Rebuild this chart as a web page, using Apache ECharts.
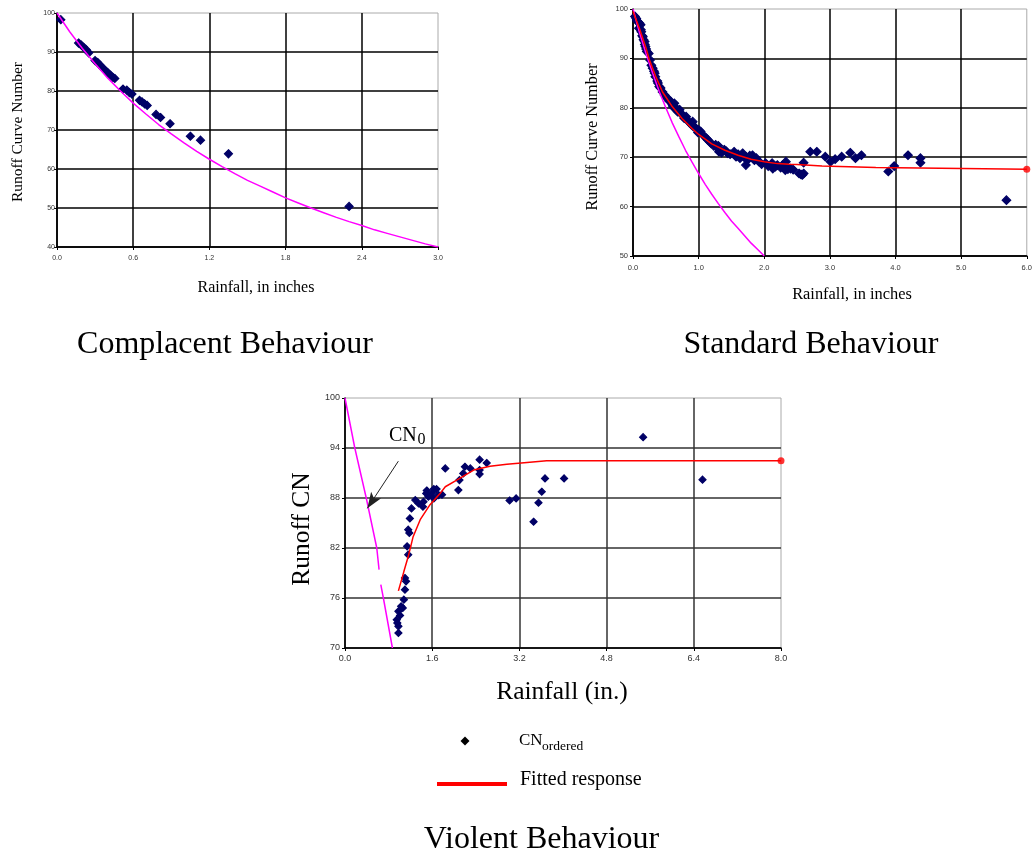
<!DOCTYPE html>
<html><head><meta charset="utf-8">
<script src="https://cdn.jsdelivr.net/npm/echarts@6/dist/echarts.min.js"></script>
<style>html,body{margin:0;padding:0;background:#fff}#c{width:1035px;height:856px}</style>
</head><body><div id="c"></div>
<script>
// ---------- Complacent behaviour ----------
const complacentRain = [0.03,0.17,0.19,0.21,0.23,0.25,0.30,0.32,0.34,0.36,0.38,0.40,0.42,0.44,0.455,0.52,0.55,0.57,0.59,0.65,0.67,0.69,0.71,0.78,0.815,0.89,1.05,1.13,1.35,2.30];
const complacentCN   = [98.3,92.3,91.8,91.2,90.6,89.8,87.8,87.3,86.6,85.9,85.3,84.7,84.1,83.5,83.2,80.5,80.2,79.6,79.2,77.6,77.2,76.7,76.3,74.0,73.2,71.6,68.4,67.4,63.9,50.4];
const complacentCN0Rain = [0,0.1,0.2,0.3,0.4,0.5,0.6,0.7,0.8,0.9,1.0,1.1,1.2,1.3,1.4,1.5,1.6,1.7,1.8,1.9,2.0,2.1,2.2,2.3,2.4,2.5,2.6,2.7,2.8,2.9,3.0];
const complacentCN0     = [100,95.2,90.9,87.0,83.3,80.0,76.9,74.1,71.4,69.0,66.7,64.5,62.5,60.6,58.8,57.1,55.6,54.1,52.6,51.3,50.0,48.8,47.6,46.5,45.5,44.4,43.5,42.6,41.7,40.8,40.0];
const complacentXTicks = ['0.0','0.6','1.2','1.8','2.4','3.0'];
const complacentYTicks = ['40','50','60','70','80','90','100'];

// ---------- Standard behaviour ----------
const standardRain = [0.03,0.05,0.06,0.076,0.09,0.10,0.116,0.12,0.126,0.14,0.15,0.16,0.177,0.18,0.19,0.20,0.21,0.24,0.26,0.28,0.30,0.32,0.33,0.34,0.37,0.38,0.40,0.42,0.45,0.48,0.50,0.53,0.55,0.58,0.60,0.61,0.63,0.65,0.66,0.68,0.71,0.73,0.76,0.78,0.81,0.83,0.86,0.89,0.91,0.92,0.95,0.99,1.00,1.03,1.09,1.12,1.14,1.17,1.19,1.23,1.26,1.29,1.30,1.31,1.35,1.39,1.42,1.44,1.48,1.54,1.55,1.57,1.60,1.63,1.67,1.70,1.72,1.72,1.75,1.78,1.82,1.85,1.88,1.92,1.96,2.02,2.06,2.12,2.13,2.17,2.20,2.25,2.28,2.33,2.32,2.36,2.40,2.44,2.53,2.56,2.60,2.60,2.58,2.70,2.80,2.93,3.01,3.08,3.18,3.31,3.39,3.48,3.89,3.98,4.19,4.38,4.38,5.69];
const standardCN   = [98.5,98.1,97.6,97.4,96.1,97.1,96.8,95.8,95.4,94.6,94.4,93.8,93.4,92.8,92.4,91.9,91.4,91.0,89.7,88.6,88.0,87.4,87.0,86.3,85.4,85.0,84.3,84.0,83.2,82.6,82.2,81.9,81.4,81.2,80.6,80.2,80.9,79.8,79.9,79.2,79.6,78.8,78.5,77.9,78.2,77.5,77.0,76.6,77.2,76.2,76.0,75.0,75.5,75.2,74.2,73.8,73.5,73.1,72.8,72.3,72.5,71.8,72.3,71.1,70.9,71.5,71.2,70.8,70.6,71.1,70.5,70.1,70.6,69.8,70.8,69.9,70.1,68.4,69.5,70.3,70.4,69.4,69.8,69.1,68.6,68.8,68.2,68.8,67.7,68.1,68.4,67.9,68.4,69.1,67.4,67.6,67.7,67.5,66.7,66.5,66.7,68.9,66.4,71.1,71.1,70.1,69.1,69.6,70.1,70.9,69.8,70.4,67.1,68.2,70.4,69.8,68.9,61.3];
const standardCN0Rain = [0,0.1,0.2,0.3,0.4,0.5,0.6,0.7,0.8,0.9,1.0,1.1,1.2,1.3,1.4,1.5,1.6,1.7,1.8,1.9,2.0];
const standardCN0     = [100,95.2,90.9,87.0,83.3,80.0,76.9,74.1,71.4,69.0,66.7,64.5,62.5,60.6,58.8,57.1,55.6,54.1,52.6,51.3,50.0];
const standardFitRain = [0.0,0.1,0.2,0.25,0.35,0.45,0.6,0.75,0.9,1.0,1.2,1.4,1.6,1.8,2.0,2.2,2.38,2.5,2.51,2.88,2.89,3.7,3.71,6.0];
const standardFitCN   = [99.5,96.0,92.0,89.7,86.2,83.2,80.2,77.8,75.8,74.6,72.7,71.4,70.4,69.6,69.1,68.7,68.55,68.5,68.3,68.2,67.9,67.9,67.6,67.55];
const standardXTicks = ['0.0','1.0','2.0','3.0','4.0','5.0','6.0'];
const standardYTicks = ['50','60','70','80','90','100'];

// ---------- Violent behaviour ----------
const violentRain = [5.47,6.56,2.47,2.60,2.20,2.30,2.17,2.47,2.47,2.10,2.08,1.84,3.02,3.14,3.67,4.02,3.61,3.55,3.46,1.49,1.53,1.63,1.68,1.78,1.63,1.44,1.43,1.29,1.35,1.22,1.19,1.16,1.18,1.14,1.16,1.10,1.10,1.08,1.03,0.98,0.95,0.98,0.98,1.50,1.60,1.72,1.06,1.12,1.01,0.96];
const violentCN   = [95.3,90.2,92.6,92.2,91.75,91.55,90.95,91.35,90.87,90.15,88.95,91.55,87.7,87.95,90.35,90.35,88.75,87.43,85.15,88.55,88.15,89.07,89.07,88.4,87.95,87.55,86.95,87.75,87.35,86.75,85.55,84.2,83.8,82.2,81.2,78.4,77.0,75.8,75.0,74.4,73.4,72.6,71.8,88.9,88.6,88.35,74.8,78.0,73.9,73.0];
const violentCN0Rain = [0,0.18,0.39,0.583,0.625,0.64,0.657,0.704,0.87];
const violentCN0     = [100,94,88,82,79.4,null,77.6,76,70];
const violentFitRain = [0.98,1.08,1.16,1.25,1.38,1.56,1.74,1.84,2.05,2.36,2.66,2.97,3.34,3.70,8.0];
const violentFitCN   = [76.86,79.17,80.97,83.36,85.4,87.2,88.5,89.35,90.15,91.35,91.8,92.06,92.26,92.46,92.46];
const violentXTicks = ['0.0','1.6','3.2','4.8','6.4','8.0'];
const violentYTicks = ['70','76','82','88','94','100'];
const violentYTickValues = [70,76,82,88,94,100];

const zip = (xs, ys) => xs.map((x, i) => [x, ys[i] === null ? '-' : ys[i]]);

const SANS = 'Liberation Sans';
const NAVY = '#000066';
const MAGENTA = '#ff00ff';
const RED = '#ff0000';

function xAxisCfg(grid, max, interval, ticks, fs, margin) {
  return {
    type: 'value', gridIndex: grid, min: 0, max: max, interval: interval,
    axisLine: { show: true, onZero: false, lineStyle: { color: '#000', width: 1.5 } },
    axisTick: { show: true, length: 3, lineStyle: { color: '#000' } },
    axisLabel: { color: '#333', fontFamily: SANS, fontSize: fs, margin: margin,
      formatter: (v, i) => ticks[i] },
    splitLine: { show: true, showMaxLine: false, lineStyle: { color: '#000', width: 1.5 } }
  };
}
function yAxisCfg(grid, min, max, interval, ticks, fs, margin) {
  return {
    type: 'value', gridIndex: grid, min: min, max: max, interval: interval,
    axisLine: { show: true, onZero: false, lineStyle: { color: '#000', width: 1.5 } },
    axisTick: { show: true, length: 3, lineStyle: { color: '#000' } },
    axisLabel: { color: '#333', fontFamily: SANS, fontSize: fs, margin: margin,
      formatter: (v, i) => ticks[i] },
    splitLine: { show: true, showMaxLine: false, lineStyle: { color: '#000', width: 1.5 } }
  };
}

const chart = echarts.init(document.getElementById('c'), null, { renderer: 'canvas' });

const violentY = yAxisCfg(2, 70, 100, undefined, violentYTicks, 9, 5);
delete violentY.interval;
violentY.axisLabel.customValues = violentYTickValues;
violentY.axisLabel.formatter = (v) => violentYTicks[violentYTickValues.indexOf(v)];
violentY.axisTick.customValues = violentYTickValues;
violentY.splitLine.lineStyle.color = '#333';
const violentX = xAxisCfg(2, 8, 1.6, violentXTicks, 9, 6);
violentX.splitLine.lineStyle.color = '#333';

const dot = (size) => ({ symbol: 'diamond', symbolSize: size,
  itemStyle: { color: NAVY, borderColor: NAVY, borderWidth: 1.2, opacity: 1 } });

const option = {
  backgroundColor: '#fff',
  animation: false,
  grid: [
    { left: 57, top: 13, width: 381, height: 234, show: true, borderColor: '#aaa', borderWidth: 1 },
    { left: 633, top: 9, width: 396, height: 247, show: true, borderColor: '#aaa', borderWidth: 1 },
    { left: 345, top: 398, width: 436, height: 250, show: true, borderColor: '#aaa', borderWidth: 1 }
  ],
  xAxis: [
    xAxisCfg(0, 3, 0.6, complacentXTicks, 7, 8),
    xAxisCfg(1, 6, 1, standardXTicks, 7.5, 8),
    violentX
  ],
  yAxis: [
    yAxisCfg(0, 40, 100, 10, complacentYTicks, 7, 2),
    yAxisCfg(1, 50, 100, 10, standardYTicks, 7.5, 5),
    violentY
  ],
  series: [
    { type: 'line', xAxisIndex: 0, yAxisIndex: 0, data: zip(complacentCN0Rain, complacentCN0),
      showSymbol: false, lineStyle: { color: MAGENTA, width: 1.5 }, silent: true },
    Object.assign({ type: 'scatter', xAxisIndex: 0, yAxisIndex: 0, data: zip(complacentRain, complacentCN) }, dot(8)),

    { type: 'line', xAxisIndex: 1, yAxisIndex: 1, data: zip(standardCN0Rain, standardCN0),
      showSymbol: false, lineStyle: { color: MAGENTA, width: 1.5 }, silent: true },
    { type: 'line', xAxisIndex: 1, yAxisIndex: 1, data: zip(standardFitRain, standardFitCN),
      showSymbol: false, lineStyle: { color: RED, width: 1.5 }, silent: true },
    Object.assign({ type: 'scatter', xAxisIndex: 1, yAxisIndex: 1, data: zip(standardRain, standardCN) }, dot(8.5)),
    { type: 'scatter', xAxisIndex: 1, yAxisIndex: 1,
      data: [[standardFitRain[standardFitRain.length - 1], standardFitCN[standardFitCN.length - 1]]],
      symbol: 'circle', symbolSize: 7, itemStyle: { color: RED } },

    { type: 'line', xAxisIndex: 2, yAxisIndex: 2, data: zip(violentCN0Rain, violentCN0),
      showSymbol: false, connectNulls: false, lineStyle: { color: MAGENTA, width: 1.5 }, silent: true,
      markLine: { silent: true, symbol: ['none', 'arrow'], symbolSize: [9, 16],
        label: { show: false }, lineStyle: { color: '#222', width: 1, type: 'solid' },
        data: [[{ coord: [0.979, 92.42] }, { coord: [0.41, 86.76] }]] } },
    { type: 'line', xAxisIndex: 2, yAxisIndex: 2, data: zip(violentFitRain, violentFitCN),
      showSymbol: false, lineStyle: { color: RED, width: 1.5 }, silent: true },
    Object.assign({ type: 'scatter', xAxisIndex: 2, yAxisIndex: 2, data: zip(violentRain, violentCN) }, dot(7)),
    { type: 'scatter', xAxisIndex: 2, yAxisIndex: 2,
      data: [[violentFitRain[violentFitRain.length - 1], violentFitCN[violentFitCN.length - 1]]],
      symbol: 'circle', symbolSize: 7, itemStyle: { color: RED } }
  ],
  graphic: [
    // axis names
    { type: 'text', x: 17.5, y: 132, rotation: Math.PI / 2,
      style: { text: 'Runoff Curve Number', font: '15.5px "Liberation Serif"', fill: '#000', align: 'center', verticalAlign: 'middle' } },
    { type: 'text', x: 256, y: 288,
      style: { text: 'Rainfall, in inches', font: '16px "Liberation Serif"', fill: '#000', align: 'center', verticalAlign: 'middle' } },
    { type: 'text', x: 593, y: 137, rotation: Math.PI / 2,
      style: { text: 'Runoff Curve Number', font: '16.3px "Liberation Serif"', fill: '#000', align: 'center', verticalAlign: 'middle' } },
    { type: 'text', x: 852, y: 295,
      style: { text: 'Rainfall, in inches', font: '16.4px "Liberation Serif"', fill: '#000', align: 'center', verticalAlign: 'middle' } },
    { type: 'text', x: 302, y: 529, rotation: Math.PI / 2,
      style: { text: 'Runoff CN', font: '25.5px "Liberation Serif"', fill: '#000', align: 'center', verticalAlign: 'middle' } },
    { type: 'text', x: 562, y: 692,
      style: { text: 'Rainfall (in.)', font: '25.5px "Liberation Serif"', fill: '#000', align: 'center', verticalAlign: 'middle' } },
    // CN0 annotation
    { type: 'text', x: 389, y: 436,
      style: { text: 'CN', font: '20px "Liberation Serif"', fill: '#000', align: 'left', verticalAlign: 'middle' } },
    { type: 'text', x: 417.5, y: 440,
      style: { text: '0', font: '16px "Liberation Serif"', fill: '#000', align: 'left', verticalAlign: 'middle' } },
    // captions
    { type: 'text', x: 225, y: 345,
      style: { text: 'Complacent Behaviour', font: '32px "Liberation Serif"', fill: '#000', align: 'center', verticalAlign: 'middle' } },
    { type: 'text', x: 811, y: 345,
      style: { text: 'Standard Behaviour', font: '32px "Liberation Serif"', fill: '#000', align: 'center', verticalAlign: 'middle' } },
    { type: 'text', x: 541.5, y: 840,
      style: { text: 'Violent Behaviour', font: '32px "Liberation Serif"', fill: '#000', align: 'center', verticalAlign: 'middle' } },
    // legend
    { type: 'polygon', shape: { points: [[465, 736.5], [469.5, 741], [465, 745.5], [460.5, 741]] }, style: { fill: '#000' } },
    { type: 'text', x: 519, y: 741,
      style: { text: 'CN', font: '17px "Liberation Serif"', fill: '#000', align: 'left', verticalAlign: 'middle' } },
    { type: 'text', x: 542, y: 746,
      style: { text: 'ordered', font: '13.5px "Liberation Serif"', fill: '#000', align: 'left', verticalAlign: 'middle' } },
    { type: 'line', shape: { x1: 437, y1: 784, x2: 507, y2: 784 }, style: { stroke: RED, lineWidth: 4 } },
    { type: 'text', x: 520, y: 780,
      style: { text: 'Fitted response', font: '20px "Liberation Serif"', fill: '#000', align: 'left', verticalAlign: 'middle' } }
  ]
};
chart.setOption(option);
</script></body></html>
